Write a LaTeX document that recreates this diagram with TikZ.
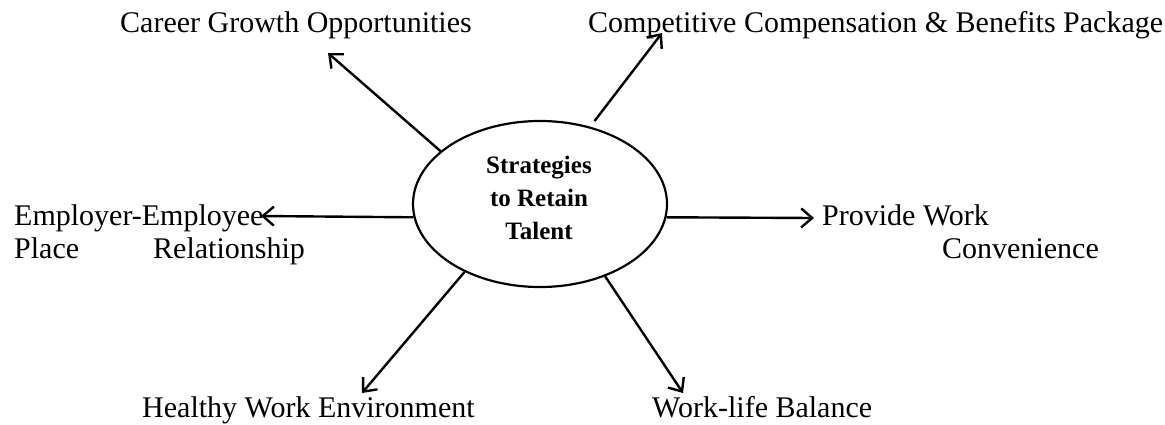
\documentclass[tikz,border=0pt]{standalone}
\usepackage{fontspec}
\setmainfont{Liberation Serif}
\usetikzlibrary{arrows.meta,shapes.geometric}
\begin{document}
\begin{tikzpicture}[x=1pt,y=-1pt,
  lbl/.style={anchor=base west,inner sep=0pt,font=\fontsize{30}{36}\selectfont},
  conn/.style={line width=2.4pt,-{Straight Barb[length=11pt,width=19pt,line width=2.4pt]}},
  hub/.style={ellipse,draw,line width=2.2pt,minimum width=254pt,minimum height=166pt,inner sep=0pt},
  hubtext/.style={align=center,inner sep=0pt,font=\fontsize{25}{33}\selectfont\bfseries}]
\useasboundingbox (0,0) rectangle (1165,424);
\node[hub] (c) at (540,204) {};
\node[hubtext] (ct) at (539,198) {Strategies\\to Retain\\Talent};
% labels
\node[lbl] (career) at (120,32) {Career Growth Opportunities};
\node[lbl] (comp) at (588,32) {Competitive Compensation \& Benefits Package};
\node[lbl] (emp1) at (14,225) {Employer-Employee};
\node[lbl] (emp2) at (14,258) {Place};
\node[lbl] (emp3) at (153,258) {Relationship};
\node[lbl] (prov1) at (822,225) {Provide Work};
\node[lbl] (prov2) at (942,258) {Convenience};
\node[lbl] (health) at (142,417) {Healthy Work Environment};
\node[lbl] (wlb) at (652,417) {Work-life Balance};
% arrow tips
\coordinate (tCareer) at (328,53);
\coordinate (tComp) at (662,33);
\coordinate (tRight) at (814,218);
\coordinate (tLeft) at (261,216);
\coordinate (tLL) at (362,393);
\coordinate (tLR) at (683,393);
% connectors
\draw[conn] (c.152) -- (tCareer);
\draw[conn,shorten <=7pt] (c.57) -- (tComp);
\draw[conn] (c.-6) -- (tRight);
\draw[conn] (c.186) -- (tLeft);
\draw[conn] (c.222) -- (tLL);
\draw[conn] (c.312) -- (tLR);
\end{tikzpicture}
\end{document}
